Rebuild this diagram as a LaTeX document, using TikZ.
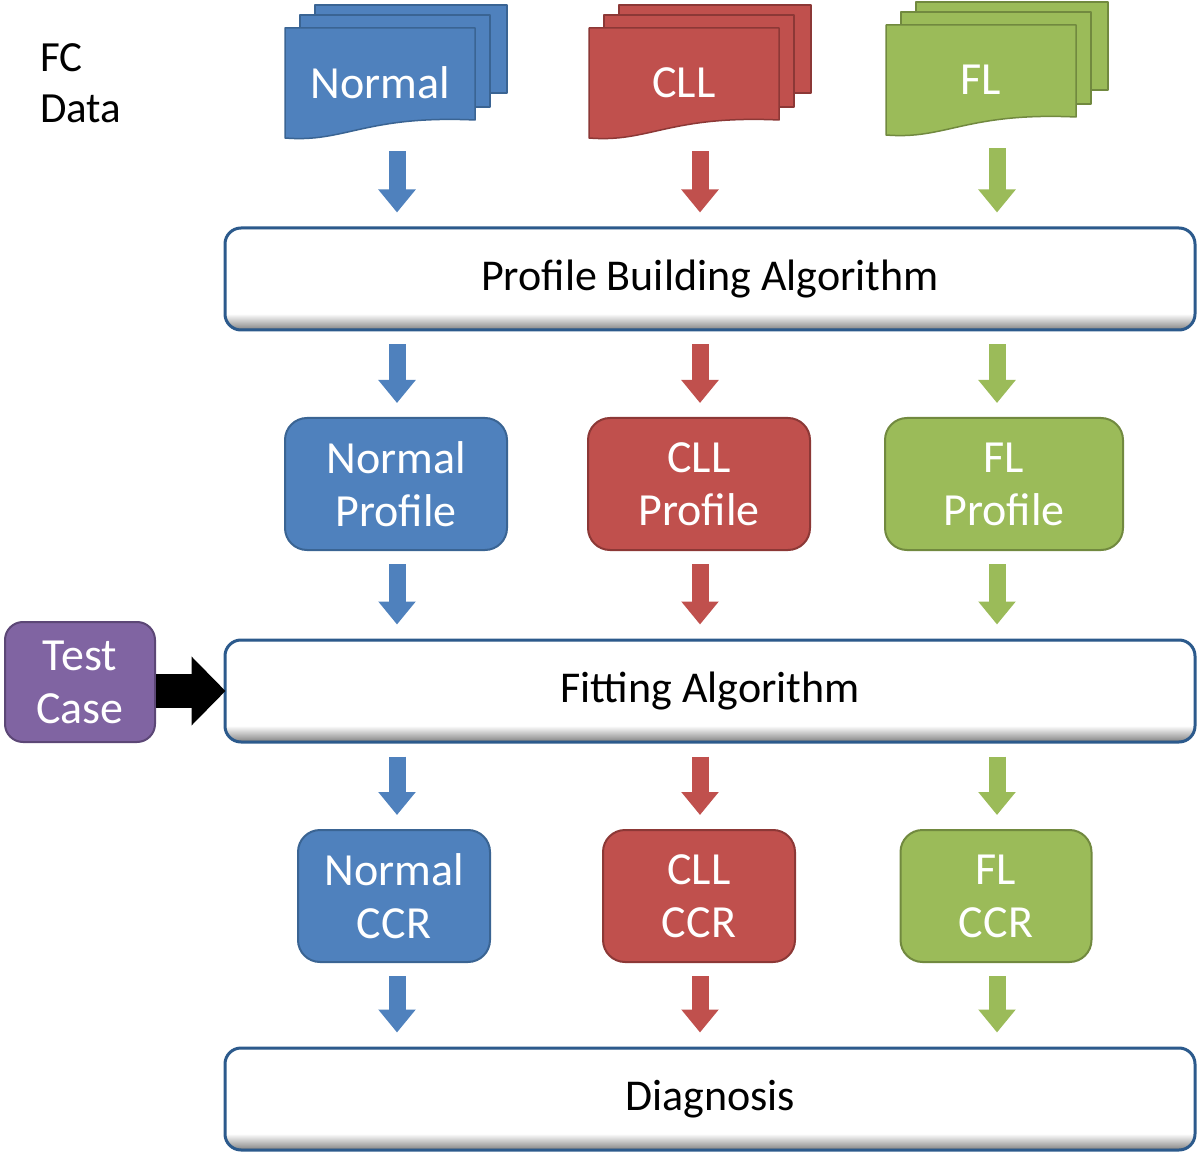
\documentclass[tikz,border=0pt]{standalone}
\usepackage{fontspec}
\setmainfont{Carlito}
\usepackage{tikz}
\usetikzlibrary{shapes}
\usetikzlibrary{arrows.meta}
\usetikzlibrary{positioning}
\usetikzlibrary{calc}
\definecolor{nblue}{HTML}{4F81BD}
\definecolor{nblueb}{HTML}{3A6493}
\definecolor{cred}{HTML}{C0504D}
\definecolor{credb}{HTML}{8C3836}
\definecolor{fgreen}{HTML}{9BBB59}
\definecolor{fgreenb}{HTML}{71893F}
\definecolor{tpurple}{HTML}{8064A2}
\definecolor{tpurpleb}{HTML}{5C4776}
\definecolor{algoborder}{HTML}{2C5A8C}
\pgfdeclareverticalshading{bevel}{100bp}{color(0bp)=(black!60); color(25bp)=(black!60); color(26.5bp)=(black!40); color(33bp)=(white); color(74bp)=(white); color(75bp)=(black!10); color(100bp)=(black!10)}
\tikzstyle{algo}=[
        rectangle,
        draw=algoborder,
        line width=3pt,
        rounded corners=16pt,
        shading=bevel,
        minimum width=970pt,
        minimum height=102pt,
        font=\fontsize{44}{50}\selectfont
]
\tikzstyle{profil}=[rectangle,draw,line width=2pt,rounded corners=22pt,minimum height=132pt,text=white,align=center,font=\fontsize{46}{53}\selectfont]
\tikzstyle{doclabel}=[rectangle,minimum width=190pt,minimum height=110pt,text=white,font=\fontsize{46}{53}\selectfont]
\tikzstyle{docpage}=[line width=1.5pt,line join=round]
\tikzstyle{suite}=[line width=17pt,-{Triangle[length=23pt,width=36pt]},shorten <=13pt,shorten >=14pt]
\tikzstyle{testarrow}=[line width=34pt,-{Triangle[length=34pt,width=67pt]},black,shorten >=-2pt]
% pile de documents
\newcommand{\docstack}[4]{%
  \draw[docpage,fill=#3,draw=#4] ({#1-65},{-#2+78}) rectangle ({#1+127},{-#2-10});
  \draw[docpage,fill=#3,draw=#4] ({#1-80},{-#2+68}) rectangle ({#1+110},{-#2-24});
  \draw[docpage,fill=#3,draw=#4] ({#1-95},{-#2+55}) -- ({#1+95},{-#2+55}) -- ({#1+95},{-#2-37})
     .. controls ({#1-15},{-#2-32}) and ({#1-35},{-#2-60}) .. ({#1-95},{-#2-55}) -- cycle;
}

\begin{document}
\begin{tikzpicture}[x=1pt,y=1pt]
\useasboundingbox (0,0) rectangle (1200,-1155);
\coordinate (colA) at (397,0);
\coordinate (colB) at (700,0);
\coordinate (colC) at (997,0);
\node[align=left,anchor=north west,inner sep=0pt,font=\fontsize{43}{51}\selectfont] (fcdata) at (40,-43) {FC\\Data};
%Documents
\docstack{380}{83}{nblue}{nblueb}
\docstack{684}{83}{cred}{credb}
\docstack{981}{80}{fgreen}{fgreenb}
\node[doclabel] (dnormal) at (380,-83) {Normal};
\node[doclabel] (dcll) at (684,-83) {CLL};
\node[doclabel] (dfl) at (981,-80) {FL};
\node[algo] (pba) at (710,-279) {Profile Building Algorithm};
\node[profil,fill=nblue,draw=nblueb,minimum width=222pt] (pnormal) at (396,-484) {Normal\\Profile};
\node[profil,fill=cred,draw=credb,minimum width=222pt] (pcll) at (699,-484) {CLL\\Profile};
\node[profil,fill=fgreen,draw=fgreenb,minimum width=238pt] (pfl) at (1004,-484) {FL\\Profile};
\node[algo] (fit) at (710,-691) {Fitting Algorithm};
\node[profil,fill=tpurple,draw=tpurpleb,minimum width=150pt,minimum height=120pt,rounded corners=18pt] (tcase) at (80,-682) {Test\\Case};
\node[profil,fill=nblue,draw=nblueb,minimum width=192pt] (cnormal) at (394,-896) {Normal\\CCR};
\node[profil,fill=cred,draw=credb,minimum width=192pt] (ccll) at (699,-896) {CLL\\CCR};
\node[profil,fill=fgreen,draw=fgreenb,minimum width=191pt] (cfl) at (996,-896) {FL\\CCR};
\node[algo] (diag) at (710,-1099) {Diagnosis};
%Placement des fleches
\draw[suite,nblue] (dnormal.south -| colA) -- (pba.north -| colA);
\draw[suite,cred] (dcll.south -| colB) -- (pba.north -| colB);
\draw[suite,fgreen] (dfl.south -| colC) -- (pba.north -| colC);
\draw[suite,nblue] (pba.south -| colA) -- (pnormal.north -| colA);
\draw[suite,cred] (pba.south -| colB) -- (pcll.north -| colB);
\draw[suite,fgreen] (pba.south -| colC) -- (pfl.north -| colC);
\draw[suite,nblue] (pnormal.south -| colA) -- (fit.north -| colA);
\draw[suite,cred] (pcll.south -| colB) -- (fit.north -| colB);
\draw[suite,fgreen] (pfl.south -| colC) -- (fit.north -| colC);
\draw[suite,nblue] (fit.south -| colA) -- (cnormal.north -| colA);
\draw[suite,cred] (fit.south -| colB) -- (ccll.north -| colB);
\draw[suite,fgreen] (fit.south -| colC) -- (cfl.north -| colC);
\draw[suite,nblue] (cnormal.south -| colA) -- (diag.north -| colA);
\draw[suite,cred] (ccll.south -| colB) -- (diag.north -| colB);
\draw[suite,fgreen] (cfl.south -| colC) -- (diag.north -| colC);
\draw[testarrow] (tcase.east |- fit.west) -- (fit.west);
\end{tikzpicture}
\end{document}
